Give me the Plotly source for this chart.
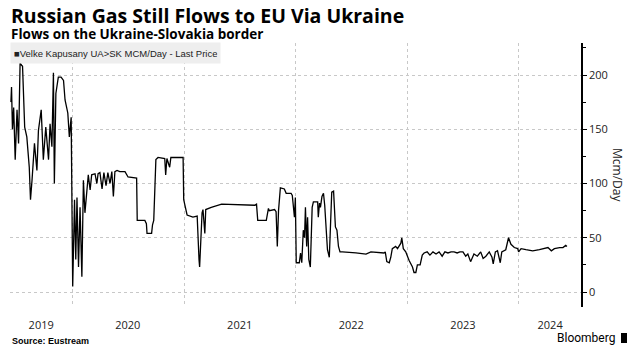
import plotly.graph_objects as go

# ---- data ----
dates = [
    "2019-06-15", "2019-06-17", "2019-06-20", "2019-06-24", "2019-06-29", "2019-07-05", "2019-07-10",
    "2019-07-15", "2019-07-20", "2019-07-23", "2019-07-30", "2019-08-06", "2019-08-14", "2019-08-18",
    "2019-08-23", "2019-08-31", "2019-09-08", "2019-09-13", "2019-09-22", "2019-09-29", "2019-10-07",
    "2019-10-16", "2019-10-21", "2019-10-27", "2019-11-01", "2019-11-04", "2019-11-09", "2019-11-17",
    "2019-11-26", "2019-12-04", "2019-12-09", "2019-12-18", "2019-12-23", "2019-12-29",
    "2020-01-03", "2020-01-09", "2020-01-13", "2020-01-17", "2020-01-22", "2020-01-27", "2020-02-02",
    "2020-02-07", "2020-02-12", "2020-02-18", "2020-02-23", "2020-02-29", "2020-03-05", "2020-03-16",
    "2020-03-22", "2020-03-26", "2020-04-01", "2020-04-08", "2020-04-14", "2020-04-21", "2020-04-27",
    "2020-05-04", "2020-05-10", "2020-05-15", "2020-05-20", "2020-05-27", "2020-06-05", "2020-06-22",
    "2020-07-02", "2020-07-30", "2020-08-01", "2020-08-26", "2020-08-31", "2020-09-02", "2020-09-17",
    "2020-09-20", "2020-09-24", "2020-10-01", "2020-10-08", "2020-10-30", "2020-11-02", "2020-11-06",
    "2020-11-15", "2020-11-19", "2020-12-29", "2020-12-31",
    "2021-01-11", "2021-01-30", "2021-02-13", "2021-02-19", "2021-02-21", "2021-03-01", "2021-03-04",
    "2021-03-10", "2021-03-13", "2021-03-31", "2021-04-27", "2021-05-04", "2021-08-20", "2021-08-26",
    "2021-08-30", "2021-09-27", "2021-10-04", "2021-10-07", "2021-10-24", "2021-10-29", "2021-11-02",
    "2021-11-06", "2021-11-12", "2021-11-25", "2021-12-01", "2021-12-17", "2021-12-21", "2021-12-28",
    "2021-12-31",
    "2022-01-03", "2022-01-13", "2022-01-17", "2022-01-21", "2022-01-26", "2022-01-30", "2022-02-02",
    "2022-02-06", "2022-02-09", "2022-02-13", "2022-02-18", "2022-02-24", "2022-02-28", "2022-03-14",
    "2022-03-16", "2022-03-20", "2022-03-23", "2022-03-28", "2022-04-02", "2022-04-06", "2022-04-10",
    "2022-04-15", "2022-04-21", "2022-04-24", "2022-04-29", "2022-05-05", "2022-05-11", "2022-05-16",
    "2022-05-21", "2022-05-26", "2022-06-03", "2022-07-17", "2022-08-19", "2022-09-04", "2022-10-17",
    "2022-10-21", "2022-10-26", "2022-11-03", "2022-11-08", "2022-11-13", "2022-11-24", "2022-11-30",
    "2022-12-11", "2022-12-14", "2022-12-19", "2022-12-27",
    "2023-01-07", "2023-01-18", "2023-01-23", "2023-01-29", "2023-02-03", "2023-02-12", "2023-02-19",
    "2023-02-25", "2023-03-07", "2023-03-16", "2023-03-26", "2023-04-05", "2023-04-15", "2023-04-25",
    "2023-05-04", "2023-05-14", "2023-05-24", "2023-06-03", "2023-06-13", "2023-06-22", "2023-07-02",
    "2023-07-11", "2023-07-18", "2023-07-27", "2023-08-07", "2023-08-18", "2023-08-29", "2023-09-06",
    "2023-09-15", "2023-09-26", "2023-10-05", "2023-10-09", "2023-10-16", "2023-10-23", "2023-11-01",
    "2023-11-06", "2023-11-14", "2023-11-19", "2023-11-28", "2023-12-06", "2023-12-17", "2023-12-28",
    "2023-12-31",
    "2024-01-08", "2024-01-24", "2024-02-15", "2024-03-08", "2024-04-05", "2024-04-16", "2024-04-26",
    "2024-05-13", "2024-05-24", "2024-06-02", "2024-06-06",
]
flows = [
    175, 189, 150, 170, 122, 168, 137,
    211, 209, 208, 152, 143, 115, 85,
    103, 137, 112, 149, 168, 122, 152,
    122, 155, 134, 202, 100, 183, 198,
    198, 195, 177, 165, 143, 161,
    5, 85, 30, 87, 23, 78, 14,
    103, 73, 97, 108, 94, 108, 109,
    100, 109, 110, 95, 110, 98, 110,
    100, 111, 88, 111, 112, 111, 111,
    106, 105, 66, 66, 63, 54, 54,
    62, 66, 122, 124, 123, 108, 123,
    115, 124, 124, 85,
    71, 69, 70, 30, 23, 73, 76,
    54, 76, 78, 80, 81, 80, 81,
    66, 66, 77, 75, 76, 74, 42,
    75, 96, 95, 91, 91, 89, 69,
    87,
    27, 27, 36, 27, 57, 50, 78,
    42, 69, 30, 23, 78, 83, 83,
    69, 82, 78, 88, 91, 80, 60,
    39, 32, 54, 92, 93, 60, 57,
    42, 37, 37, 36, 35, 37, 36,
    37, 28, 27, 32, 40, 42, 40,
    45, 50, 40, 37,
    29, 23, 18, 18, 25, 25, 34,
    36, 37, 34, 37, 35, 37, 33,
    37, 36, 37, 37, 36, 37, 37,
    33, 35, 28, 35, 33, 37, 31,
    33, 37, 32, 26, 37, 38, 27,
    37, 38, 39, 50, 44, 41, 40,
    37,
    40, 39, 38, 39, 41, 38, 40,
    41, 41, 43, 42,
]
year_labels = ["2019", "2020", "2021", "2022", "2023", "2024"]
year_label_dates = ["2019-09-22", "2020-07-01", "2021-07-02", "2022-07-02", "2023-07-02", "2024-04-12"]
year_starts = ["2020-01-01", "2021-01-01", "2022-01-01", "2023-01-01", "2024-01-01"]
y_ticks = [0, 50, 100, 150, 200]

FONT = "Open Sans"

fig = go.Figure(
    go.Scatter(x=dates, y=flows, mode="lines",
               line=dict(color="#000000", width=1.3), hoverinfo="skip")
)

# page body adds an 8px offset, so the figure is 8px smaller than the window
fig.update_layout(
    width=632, height=348,
    margin=dict(l=2, r=59, t=35, b=49),
    plot_bgcolor="white", paper_bgcolor="white",
    showlegend=False,
    font=dict(family=FONT, color="#222222", size=11),
)

fig.update_xaxes(
    type="date", range=["2019-06-12", "2024-07-22"],
    tickvals=year_label_dates, ticktext=year_labels,
    showgrid=False, showline=False, zeroline=False,
    ticks="outside", ticklen=8, tickcolor="rgba(0,0,0,0)",
    tickfont=dict(size=11, color="#222222"),
    minor=dict(tickvals=year_starts, showgrid=True, gridcolor="#c8c8c8",
               griddash="dot", gridwidth=1, ticks=""),
)

fig.update_yaxes(
    side="right", range=[-13.8, 229.5],
    tickvals=y_ticks,
    showgrid=True, gridcolor="#c8c8c8", griddash="dot", gridwidth=1,
    showline=True, linecolor="#000000", linewidth=1.5,
    ticks="outside", ticklen=4, tickcolor="#000000", tickwidth=1,
    minor=dict(tick0=0, dtick=25, ticks="outside", ticklen=3,
               tickcolor="#000000", showgrid=False),
    zeroline=False,
    tickfont=dict(size=11, color="#222222"),
)

def py(pix):
    return (307 - pix) / 264.0

def px(pix):
    return (pix - 10) / 571.0

annotations = [
    dict(text="<b>Russian Gas Still Flows to EU Via Ukraine</b>", x=0, y=py(15),
         font=dict(size=19.5, family=FONT, color="#000000"), borderpad=0),
    dict(text="<b>Flows on the Ukraine-Slovakia border</b>", x=0, y=py(33.5),
         font=dict(size=13.5, family=FONT, color="#000000"), borderpad=0),
    dict(text="■Velke Kapusany UA>SK MCM/Day - Last Price", x=0, y=py(53),
         font=dict(size=9.5, family="Liberation Sans", color="#222222"),
         bgcolor="#eeeeee", height=14, borderpad=3, align="left"),
    dict(text="<b>Source: Eustream</b>", x=0, y=py(341),
         font=dict(size=9, family="Liberation Sans", color="#000000")),
]
for a in annotations:
    a.update(xref="paper", yref="paper", xanchor="left", yanchor="middle", showarrow=False)

annotations.append(dict(text="Mcm/Day", x=px(618), y=py(175), xref="paper", yref="paper",
                        textangle=90, showarrow=False, xanchor="center", yanchor="middle",
                        font=dict(size=12, family=FONT, color="#222222")))
annotations.append(dict(text="Bloomberg", x=px(617), y=py(338), xref="paper", yref="paper",
                        showarrow=False, xanchor="right", yanchor="middle",
                        font=dict(size=12, family="Roboto", color="#000000")))
fig.update_layout(annotations=annotations)

fig.add_shape(type="rect", xref="paper", yref="paper",
              x0=px(621), x1=px(627), y0=py(343), y1=py(333),
              fillcolor="#000000", line=dict(width=0))

fig.write_html("out.html")
